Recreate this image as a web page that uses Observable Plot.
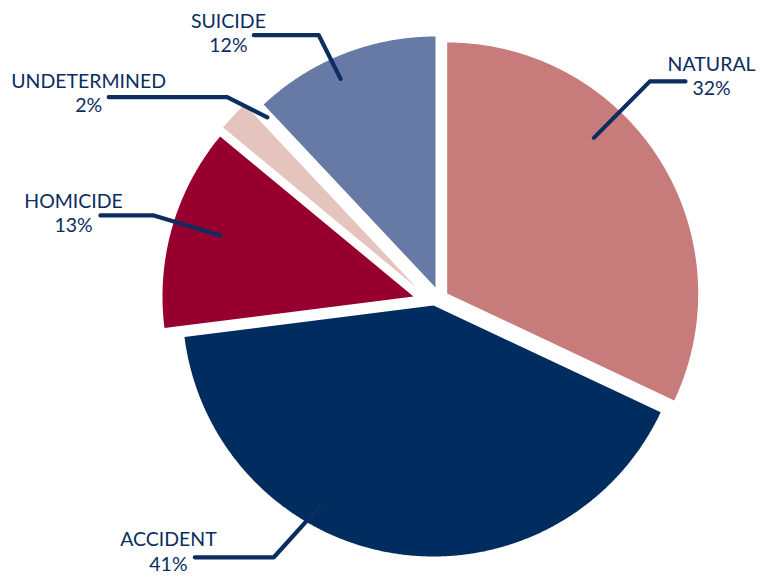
<!DOCTYPE html>
<html><head><meta charset="utf-8">
<script src="https://cdn.jsdelivr.net/npm/d3@7"></script>
<script src="https://cdn.jsdelivr.net/npm/@observablehq/plot@0.6"></script>
<style>html,body{margin:0;padding:0;background:#fff;} #chart svg{display:block}</style>
</head><body><div id="chart"></div>
<script>
// ---- data ----
const categories = ["NATURAL", "ACCIDENT", "HOMICIDE", "UNDETERMINED", "SUICIDE"];
const values = [32, 41, 13, 2, 12];
const colors = ["#c77b7b", "#002c5f", "#97002e", "#e5c4bd", "#677aa5"];

// ---- layout (unit-circle coordinates, radius = 1) ----
const explode = [[0.0386, 0.0199], [-0.0159, -0.0279], [-0.0956, 0.008], [-0.0837, 0.0438], [-0.008, 0.0438]];
const leaderInner = [[0.623, 0.640], [-0.466, -0.825], [-0.865, 0.251], [-0.678, 0.722], [-0.386, 0.875]];
const leaderElbow = [[0.846, 0.865], [-0.652, -1.031], [-1.130, 0.331], [-0.838, 0.802], [-0.473, 1.049]];
const leaderEnd = [[0.988, 0.865], [-0.967, -1.031], [-1.343, 0.331], [-1.310, 0.802], [-0.732, 1.049]];
const labelAnchor = [[1.092, 0.809], [-1.072, -1.084], [-1.450, 0.264], [-1.390, 0.742], [-0.833, 0.981]];
const navy = "#0b2d60";

const arcs = d3.pie().sort(null).value(d => d)(values);
const slicePts = [];
arcs.forEach((a, i) => {
  const [ox, oy] = explode[i];
  slicePts.push({name: categories[i], x: ox, y: oy});
  const n = Math.max(8, Math.ceil((a.endAngle - a.startAngle) / 0.005));
  for (let k = 0; k <= n; k++) {
    const t = a.startAngle + (a.endAngle - a.startAngle) * k / n;
    slicePts.push({name: categories[i], x: ox + Math.sin(t), y: oy + Math.cos(t)});
  }
});

const leaderPts = categories.flatMap((c, i) =>
  [leaderInner[i], leaderElbow[i], leaderEnd[i]].map(([x, y]) => ({name: c, x, y})));

const labels = categories.map((c, i) => ({
  x: labelAnchor[i][0], y: labelAnchor[i][1], text: `${c}\n${values[i]}%`
}));

const chart = Plot.plot({
  width: 760, height: 577, margin: 0,
  style: {background: "#fff"},
  x: {domain: [-437 / 251, 323 / 251], axis: null},
  y: {domain: [-279 / 251, 298 / 251], axis: null},
  color: {domain: categories, range: colors},
  marks: [
    Plot.line(slicePts, {x: "x", y: "y", z: "name", fill: "name", stroke: "none", curve: "linear-closed"}),
    Plot.line(leaderPts, {x: "x", y: "y", z: "name", stroke: navy, strokeWidth: 4.2, strokeLinecap: "round", strokeLinejoin: "round"}),
    Plot.text(labels, {x: "x", y: "y", text: "text", lineAnchor: "bottom", lineHeight: 1.26,
      fontSize: 19.5, fontWeight: 400, fontFamily: "Lato", fill: navy})
  ]
});
document.getElementById("chart").appendChild(chart);
</script>
</body></html>
